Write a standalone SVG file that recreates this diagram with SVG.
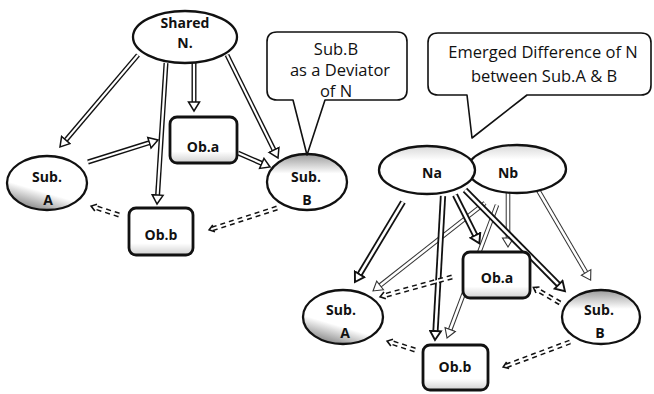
<svg xmlns="http://www.w3.org/2000/svg" width="654" height="394" viewBox="0 0 654 394">
<style>
.bg{fill:#fff}
.el{stroke:#111;stroke-width:2.3}
.bx{stroke:#111;stroke-width:2.8}
.lbl{font-family:"Open Sans","Liberation Sans",sans-serif;font-weight:bold;font-size:14px;fill:#111;text-anchor:middle}
.ct{font-family:"Open Sans","Liberation Sans",sans-serif;font-size:16.5px;fill:#111;text-anchor:middle}
.callout{fill:#fff;stroke:#111;stroke-width:1.6;stroke-linejoin:round}
.o{stroke:#111;stroke-width:5;stroke-linecap:butt}
.i{stroke:#fff;stroke-width:2.2}
.oh{stroke:#111;stroke-width:6.2}
.ih{stroke:#fff;stroke-width:2.6}
.ol{stroke:#333;stroke-width:4.6}
.il{stroke:#fff;stroke-width:2.6}
.do{stroke:#111;stroke-width:5;stroke-dasharray:5 4}
.di{stroke:#fff;stroke-width:2}
</style>
<defs>
<marker id="hd" markerUnits="userSpaceOnUse" markerWidth="14" markerHeight="14" viewBox="0 0 14 14" refX="1" refY="7" orient="auto">
<path d="M1,1.5 L10,7 L1,12.5 Z" fill="#fff" stroke="#111" stroke-width="1.5" stroke-linejoin="miter"/>
</marker>
<marker id="hdh" markerUnits="userSpaceOnUse" markerWidth="14" markerHeight="14" viewBox="0 0 14 14" refX="1" refY="7" orient="auto">
<path d="M1,1.5 L10,7 L1,12.5 Z" fill="#fff" stroke="#111" stroke-width="1.9"/>
</marker>
<marker id="hdl" markerUnits="userSpaceOnUse" markerWidth="14" markerHeight="14" viewBox="0 0 14 14" refX="1" refY="7" orient="auto">
<path d="M1,1.5 L10,7 L1,12.5 Z" fill="#fff" stroke="#333" stroke-width="1.1"/>
</marker>
<marker id="ch" markerUnits="userSpaceOnUse" markerWidth="10" markerHeight="10" viewBox="0 0 10 10" refX="3" refY="5" orient="auto">
<path d="M1,1.5 L6,5 L1,8.5" fill="none" stroke="#111" stroke-width="1.6"/>
</marker>
<linearGradient id="gBot" x1="0.7" y1="0.2" x2="0.35" y2="1">
<stop offset="0" stop-color="#fff"/><stop offset="0.6" stop-color="#fff"/><stop offset="1" stop-color="#8a8a8a"/>
</linearGradient>
<linearGradient id="gTop" x1="0.5" y1="0" x2="0.5" y2="1">
<stop offset="0" stop-color="#9a9a9a"/><stop offset="0.35" stop-color="#fff"/><stop offset="1" stop-color="#fff"/>
</linearGradient>
<linearGradient id="gTopL" x1="0.5" y1="0" x2="0.5" y2="1">
<stop offset="0" stop-color="#d8d8d8"/><stop offset="0.3" stop-color="#fff"/><stop offset="1" stop-color="#fff"/>
</linearGradient>
<linearGradient id="gBox" x1="0.5" y1="0" x2="0.5" y2="1">
<stop offset="0" stop-color="#fff"/><stop offset="0.75" stop-color="#fff"/><stop offset="1" stop-color="#d0d0d0"/>
</linearGradient>
</defs>
<rect class="bg" x="0" y="0" width="654" height="394"/>

<g id="connectors">
<!-- left diagram -->
<g><line class="o" x1="138" y1="55" x2="65.8" y2="140.1"/><line class="i" x1="138" y1="55" x2="65.8" y2="140.1" marker-end="url(#hd)"/></g>
<g><line class="o" x1="166" y1="63" x2="157.6" y2="195"/><line class="i" x1="166" y1="63" x2="157.6" y2="195" marker-end="url(#hd)"/></g>
<g><line class="o" x1="194" y1="63" x2="194" y2="102"/><line class="i" x1="194" y1="63" x2="194" y2="102" marker-end="url(#hd)"/></g>
<g><line class="o" x1="227" y1="55" x2="274" y2="149.9"/><line class="i" x1="227" y1="55" x2="274" y2="149.9" marker-end="url(#hd)"/></g>
<g><line class="o" x1="88" y1="162" x2="149.4" y2="142.7"/><line class="i" x1="88" y1="162" x2="149.4" y2="142.7" marker-end="url(#hd)"/></g>
<g><line class="o" x1="238" y1="153" x2="261.8" y2="163.4"/><line class="i" x1="238" y1="153" x2="261.8" y2="163.4" marker-end="url(#hd)"/></g>
<g><line class="do" x1="119" y1="215" x2="94" y2="207"/><line class="di" x1="119" y1="215" x2="94" y2="207" marker-end="url(#ch)"/></g>
<g><line class="do" x1="277" y1="208" x2="212" y2="229"/><line class="di" x1="277" y1="208" x2="212" y2="229" marker-end="url(#ch)"/></g>
<!-- right diagram: Nb arrows (lighter) -->
<g><line class="ol" x1="485" y1="203" x2="380.1" y2="285.4"/><line class="il" x1="485" y1="203" x2="380.1" y2="285.4" marker-end="url(#hdl)"/></g>
<g><line class="ol" x1="497" y1="205" x2="450.2" y2="329.6"/><line class="il" x1="497" y1="205" x2="450.2" y2="329.6" marker-end="url(#hdl)"/></g>
<g><line class="ol" x1="508" y1="190" x2="508" y2="238"/><line class="il" x1="508" y1="190" x2="508" y2="238" marker-end="url(#hdl)"/></g>
<g><line class="ol" x1="538" y1="190" x2="586.1" y2="272.4"/><line class="il" x1="538" y1="190" x2="586.1" y2="272.4" marker-end="url(#hdl)"/></g>
<!-- Na arrows (heavier) -->
<g><line class="oh" x1="403" y1="202" x2="359.6" y2="274.3"/><line class="ih" x1="403" y1="202" x2="359.6" y2="274.3" marker-end="url(#hdh)"/></g>
<g><line class="oh" x1="443" y1="196" x2="435.5" y2="331"/><line class="ih" x1="443" y1="196" x2="435.5" y2="331" marker-end="url(#hdh)"/></g>
<g><line class="oh" x1="455" y1="195" x2="475.3" y2="235.3"/><line class="ih" x1="455" y1="195" x2="475.3" y2="235.3" marker-end="url(#hdh)"/></g>
<g><line class="oh" x1="465" y1="190" x2="558.6" y2="284.7"/><line class="ih" x1="465" y1="190" x2="558.6" y2="284.7" marker-end="url(#hdh)"/></g>
<!-- dashed -->
<g><line class="do" x1="452" y1="277" x2="383" y2="296"/><line class="di" x1="452" y1="277" x2="383" y2="296" marker-end="url(#ch)"/></g>
<g><line class="do" x1="560" y1="303" x2="536" y2="289"/><line class="di" x1="560" y1="303" x2="536" y2="289" marker-end="url(#ch)"/></g>
<g><line class="do" x1="415" y1="350" x2="390" y2="342"/><line class="di" x1="415" y1="350" x2="390" y2="342" marker-end="url(#ch)"/></g>
<g><line class="do" x1="570" y1="342" x2="506" y2="366"/><line class="di" x1="570" y1="342" x2="506" y2="366" marker-end="url(#ch)"/></g>
</g>

<!-- left diagram nodes -->
<g id="sharedN">
<ellipse class="el" cx="185" cy="37" rx="52" ry="26" fill="#fff"/>
<text class="lbl" x="185" y="28">Shared</text>
<text class="lbl" x="185" y="48">N.</text>
</g>
<g id="subA1">
<ellipse class="el" cx="47" cy="183" rx="40" ry="27" fill="url(#gBot)"/>
<text class="lbl" x="47" y="182">Sub.</text>
<text class="lbl" x="48" y="205">A</text>
</g>
<g id="obA1">
<rect class="bx" x="170" y="117" width="67" height="46" rx="7" fill="url(#gBox)"/>
<text class="lbl" x="203" y="152">Ob.a</text>
</g>
<g id="subB1">
<ellipse class="el" cx="307" cy="182" rx="40" ry="28" fill="url(#gTop)"/>
<text class="lbl" x="306" y="182">Sub.</text>
<text class="lbl" x="307" y="205">B</text>
</g>
<g id="obB1">
<rect class="bx" x="129" y="208" width="64" height="47" rx="7" fill="url(#gBox)"/>
<text class="lbl" x="161" y="240">Ob.b</text>
</g>
<g id="callout1">
<path class="callout" d="M277,32 H397 Q407,32 407,42 V90 Q407,100 397,100 H325 L307,155 L293,100 H277 Q267,100 267,90 V42 Q267,32 277,32 Z"/>
<text class="ct" x="336" y="55">Sub.B</text>
<text class="ct" x="340" y="76">as a Deviator</text>
<text class="ct" x="336" y="97">of N</text>
</g>

<!-- right diagram nodes -->
<g id="nb">
<ellipse class="el" cx="517" cy="169" rx="49" ry="24" fill="url(#gTopL)"/>
<text class="lbl" x="508" y="178">Nb</text>
</g>
<g id="na">
<ellipse class="el" cx="427" cy="170" rx="48" ry="24" fill="url(#gTopL)"/>
<text class="lbl" x="432" y="178">Na</text>
</g>
<g id="subA2">
<ellipse class="el" cx="343" cy="317" rx="40" ry="27" fill="url(#gBot)"/>
<text class="lbl" x="341" y="315">Sub.</text>
<text class="lbl" x="345" y="338">A</text>
</g>
<g id="obA2">
<rect class="bx" x="463" y="252" width="67" height="46" rx="7" fill="url(#gBox)"/>
<text class="lbl" x="497" y="283">Ob.a</text>
</g>
<g id="subB2">
<ellipse class="el" cx="601" cy="317" rx="39" ry="27" fill="url(#gTop)"/>
<text class="lbl" x="599" y="315">Sub.</text>
<text class="lbl" x="600" y="338">B</text>
</g>
<g id="obB2">
<rect class="bx" x="423" y="345" width="65" height="45" rx="7" fill="url(#gBox)"/>
<text class="lbl" x="455" y="372">Ob.b</text>
</g>
<g id="callout2">
<path class="callout" d="M438,33 H641 Q651,33 651,43 V85 Q651,95 641,95 H527 L472,138 L467,95 H438 Q428,95 428,85 V43 Q428,33 438,33 Z"/>
<text class="ct" x="543" y="58">Emerged Difference of N</text>
<text class="ct" x="544" y="82">between Sub.A &amp; B</text>
</g>
</svg>
